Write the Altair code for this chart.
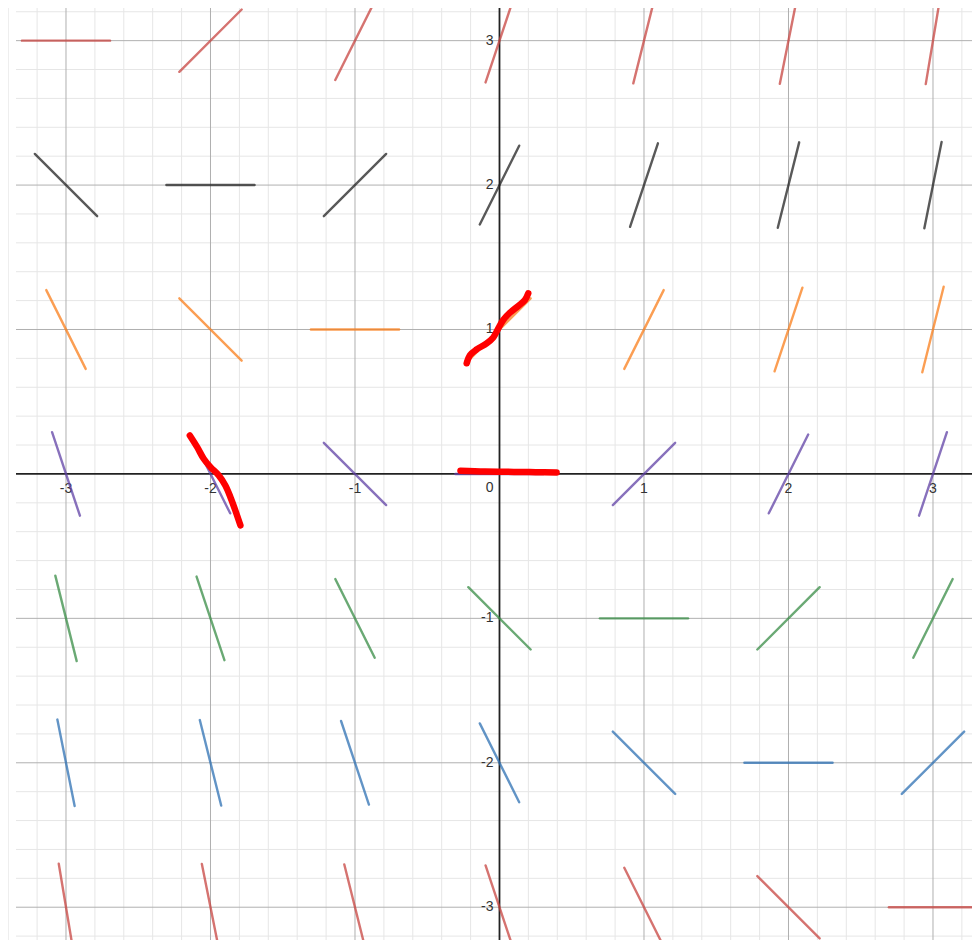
import altair as alt
import pandas as pd

# ---- data ----
grid_x = [-3, -2, -1, 0, 1, 2, 3]
grid_y = [3, 2, 1, 0, -1, -2, -3]
# slope of the field segment at each grid point, one row per y value (top to bottom)
slopes = [
    [0, 1, 2, 3, 4, 5, 6],
    [-1, 0, 1, 2, 3, 4, 5],
    [-2, -1, 0, 1, 2, 3, 4],
    [-3, -2, -1, 0, 1, 2, 3],
    [-4, -3, -2, -1, 0, 1, 2],
    [-5, -4, -3, -2, -1, 0, 1],
    [-6, -5, -4, -3, -2, -1, 0],
]
row_names = ["y=3", "y=2", "y=1", "y=0", "y=-1", "y=-2", "y=-3"]
row_colors = ["#c74440", "#222222", "#fa7e19", "#6042a6", "#388c46", "#2d70b3", "#c74440"]
half_len = 0.305

x_labels = [-3, -2, -1, 1, 2, 3]
x_texts = ["-3", "-2", "-1", "1", "2", "3"]
y_labels = [3, 2, 1, -1, -2, -3]
y_texts = ["3", "2", "1", "-1", "-2", "-3"]
major_lines = [-3, -2, -1, 1, 2, 3]
minor_lines = [round(-3.4 + 0.2 * i, 1) for i in range(35) if abs(round(-3.4 + 0.2 * i, 1) % 1) > 1e-6]

# hand-drawn red strokes (data coordinates)
s1_x = [-0.227, -0.204, -0.158, -0.089, -0.043, -0.008, 0.026, 0.073, 0.130, 0.176, 0.199]
s1_y = [0.766, 0.823, 0.862, 0.904, 0.945, 1.008, 1.066, 1.116, 1.163, 1.204, 1.250]
s2_x = [-2.143, -2.092, -2.047, -2.000, -1.943, -1.897, -1.862, -1.828, -1.793]
s2_y = [0.266, 0.185, 0.105, 0.047, -0.010, -0.080, -0.161, -0.253, -0.356]
s3_x = [-0.27, -0.10, 0.10, 0.25, 0.395]
s3_y = [0.022, 0.016, 0.014, 0.012, 0.010]

# ---- tables ----
rows = []
for i, yv in enumerate(grid_y):
    for j, xv in enumerate(grid_x):
        m = slopes[i][j]
        d = (1 + m * m) ** 0.5
        dx = half_len / d
        dy = half_len * m / d
        rows.append({"x": xv - dx, "x2": xv + dx, "y": yv - dy, "y2": yv + dy, "row": row_names[i]})
seg_df = pd.DataFrame(rows)

strokes = []
for sid, (sxs, sys_) in enumerate([(s1_x, s1_y), (s2_x, s2_y), (s3_x, s3_y)]):
    for k, (a, b) in enumerate(zip(sxs, sys_)):
        strokes.append({"sx": a, "sy": b, "sid": sid, "k": k})
stroke_df = pd.DataFrame(strokes)

xs = alt.Scale(domain=[-3.346, 3.270], nice=False, zero=False)
ys = alt.Scale(domain=[-3.227, 3.226], nice=False, zero=False)

minor_df = pd.DataFrame({"v": minor_lines})
major_df = pd.DataFrame({"v": major_lines})
zero_df = pd.DataFrame({"v": [0]})

minor_v = alt.Chart(minor_df).mark_rule(color="#e6e6e6", strokeWidth=1).encode(x=alt.X("v:Q", scale=xs, axis=None))
minor_h = alt.Chart(minor_df).mark_rule(color="#e6e6e6", strokeWidth=1).encode(y=alt.Y("v:Q", scale=ys, axis=None))
major_v = alt.Chart(major_df).mark_rule(color="#b0b0b0", strokeWidth=1).encode(x=alt.X("v:Q", scale=xs, axis=None))
major_h = alt.Chart(major_df).mark_rule(color="#b0b0b0", strokeWidth=1).encode(y=alt.Y("v:Q", scale=ys, axis=None))
axis_v = alt.Chart(zero_df).mark_rule(color="#222222", strokeWidth=1.8).encode(x=alt.X("v:Q", scale=xs, axis=None))
axis_h = alt.Chart(zero_df).mark_rule(color="#222222", strokeWidth=1.8).encode(y=alt.Y("v:Q", scale=ys, axis=None))

font = "Liberation Sans"
xlab = alt.Chart(pd.DataFrame({"v": x_labels, "t": x_texts, "z": [0] * len(x_labels)})).mark_text(
    font=font, fontSize=14, color="#333333", align="center", baseline="middle", dy=15
).encode(x=alt.X("v:Q", scale=xs, axis=None), y=alt.Y("z:Q", scale=ys, axis=None), text="t:N")
ylab = alt.Chart(pd.DataFrame({"v": y_labels, "t": y_texts, "z": [0] * len(y_labels)})).mark_text(
    font=font, fontSize=14, color="#333333", align="right", baseline="middle", dx=-6
).encode(x=alt.X("z:Q", scale=xs, axis=None), y=alt.Y("v:Q", scale=ys, axis=None), text="t:N")
zlab = alt.Chart(pd.DataFrame({"v": [0], "t": ["0"]})).mark_text(
    font=font, fontSize=14, color="#333333", align="right", baseline="middle", dx=-6, dy=14
).encode(x=alt.X("v:Q", scale=xs, axis=None), y=alt.Y("v:Q", scale=ys, axis=None), text="t:N")

segs = alt.Chart(seg_df).mark_rule(strokeWidth=2.4, opacity=0.75, clip=True, strokeCap="round").encode(
    x=alt.X("x:Q", scale=xs, axis=None),
    x2="x2:Q",
    y=alt.Y("y:Q", scale=ys, axis=None),
    y2="y2:Q",
    color=alt.Color("row:N", scale=alt.Scale(domain=row_names, range=row_colors), legend=None),
)

red = alt.Chart(stroke_df).mark_line(color="#ff0000", strokeWidth=6.5, strokeCap="round", strokeJoin="round", interpolate="catmull-rom").encode(
    x=alt.X("sx:Q", scale=xs, axis=None),
    y=alt.Y("sy:Q", scale=ys, axis=None),
    detail="sid:N",
    order="k:Q",
)

chart = alt.layer(
    minor_v, minor_h, major_v, major_h, axis_v, axis_h, xlab, ylab, zlab, segs, red
).properties(
    width=956, height=932,
    autosize=alt.AutoSizeParams(type="none"),
    padding={"left": 8, "top": 0, "right": 0, "bottom": 0},
).configure_view(stroke=None)

chart.save("out.html", embed_options={"renderer": "svg", "actions": False})
